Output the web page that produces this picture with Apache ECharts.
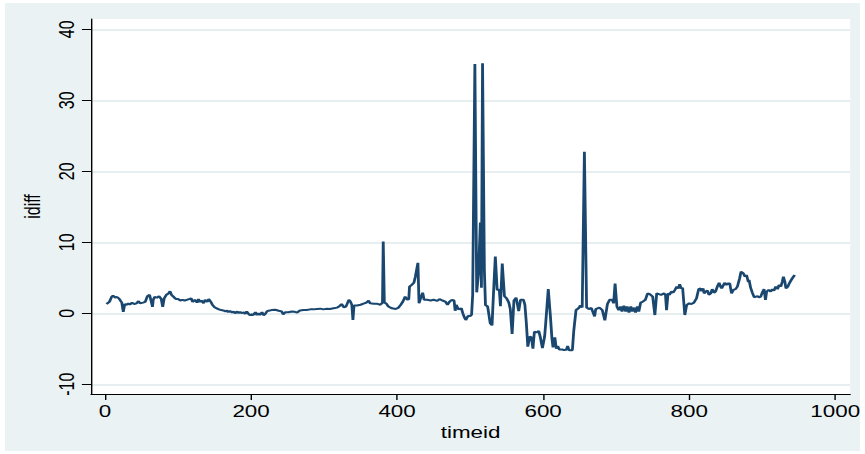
<!DOCTYPE html>
<html>
<head>
<meta charset="utf-8">
<script src="https://cdn.jsdelivr.net/npm/echarts@6/dist/echarts.min.js"></script>
<style>
  html, body { margin: 0; padding: 0; background: #ffffff; width: 865px; height: 454px; overflow: hidden; }
  #frame { position: absolute; left: 5px; top: 3px; width: 855px; height: 448px; background: #eaf2f3; }
  /* the graph is laid out narrow and widened horizontally, like a stretched export */
  #chart { position: absolute; left: 0; top: 0; width: 617.857px; height: 454px;
           transform: scaleX(1.4); transform-origin: 0 0; }
</style>
</head>
<body>
<div id="frame"></div>
<div id="chart"></div>
<script>
// time index of each observation
const timeid = [
  2, 6, 9, 11, 14, 16, 19, 23, 25, 27, 30, 32, 34, 37, 40, 43, 46, 48, 52, 55,
  58, 61, 63, 65, 66, 68, 71, 74, 77, 79, 81, 84, 87, 89, 91, 94, 96, 98, 100, 103,
  106, 109, 112, 115, 118, 120, 123, 126, 128, 130, 132, 135, 137, 140, 142, 145, 147, 150, 153, 156,
  159, 162, 165, 167, 169, 171, 174, 176, 178, 181, 183, 185, 187, 190, 192, 194, 197, 199, 201, 203,
  206, 208, 210, 212, 215, 217, 219, 222, 224, 228, 233, 238, 242, 244, 247, 251, 256, 260,
  263, 267, 272, 276, 281, 286, 290, 295, 299, 304, 308, 313, 318, 321, 324, 327, 330, 334, 336, 338,
  339.5, 341, 345, 350, 354, 358, 361, 363, 368, 372, 377, 380, 381, 382.5, 385, 388, 393, 398, 402, 405,
  408, 411, 414, 416, 417, 420, 423, 425, 428.5, 430, 432, 435, 437, 441, 446, 450, 455, 458, 462, 466,
  469, 472, 475, 478, 479.5, 481, 484, 488, 490, 492, 494, 497, 500,
  502, 503.5, 506.5, 509, 511.5, 514, 515.5, 517, 519.5, 521, 524, 527.5, 530, 532, 534.5, 537, 540, 541.5, 544, 547,
  550, 553, 555, 557.5, 560, 563, 566.5, 569, 573, 575, 577, 579, 581.5, 584, 586, 588, 591, 594, 596, 599,
  602, 603.5, 607, 610, 612, 613.5, 616, 618, 620, 622, 626, 629, 632, 633.5, 635.5, 640, 642, 645, 648.5, 651,
  653.5, 656.5, 659.5, 662.5, 666, 670.5, 672, 677, 681, 684.5, 688, 691, 694.5, 696.5, 698.5, 701,
  703.5, 706, 708, 710.5, 713, 715, 717.5, 720, 722, 724.5, 726.5, 729, 731, 733.5, 736, 740, 743, 746, 750, 753,
  755.5, 758.5, 761.5, 765.5, 767.5, 769, 771, 773, 775.5, 778, 780.5, 783, 785, 787, 789, 791, 794, 796.5, 800, 803,
  806.5, 810, 813, 815.5, 817, 819, 820.5, 822.5, 825, 827, 829.5, 831.5, 834, 836, 838.5, 841, 843, 844.5, 848.5, 851,
  853, 855.5, 858, 860.5, 863.5, 866, 869, 871, 874, 876.5, 878.5, 881, 882, 884, 886.5, 889, 891, 893.5, 895.5, 898,
  900, 902.5, 904.5, 906, 909, 911.5, 914, 916, 918.5, 921, 923, 925.5, 927.5, 929, 931, 932.5, 935, 937.5, 941, 944.5
];

// idiff value at each time index
const idiff = [
  1.3, 1.6, 2.3, 2.5, 2.2, 2.3, 2.1, 1.5, 0.2, 1.3, 1.2, 1.4, 1.2, 1.5, 1.3, 1.4, 1.7, 1.4, 1.5, 1.6,
  2.4, 2.6, 1.8, 0.9, 1.9, 2.3, 2.2, 2.4, 2.0, 0.9, 2.1, 2.6, 2.8, 3.1, 2.6, 2.3, 2.1, 2.0, 2.0, 1.8,
  1.9, 1.8, 1.9, 2.0, 2.1, 1.6, 1.9, 1.5, 2.0, 1.6, 1.8, 1.4, 1.9, 1.6, 2.0, 1.6, 1.2, 0.85, 0.7, 0.55,
  0.45, 0.4, 0.25, 0.4, 0.15, 0.35, 0.1, 0.25, 0.0, 0.25, 0.0, 0.2, 0.0, 0.15, -0.1, 0.25, -0.15, -0.25, -0.15, -0.25,
  0.15, -0.25, 0.0, -0.25, 0.15, -0.25, -0.15, 0.3, 0.35, 0.45, 0.5, 0.35, 0.25, -0.15, 0.15, 0.15, 0.25, 0.2,
  0.1, 0.4, 0.45, 0.45, 0.55, 0.55, 0.6, 0.65, 0.55, 0.65, 0.6, 0.7, 0.8, 1.0, 1.3, 0.85, 0.95, 1.9, 1.65, 1.2,
  -0.95, 1.1, 1.1, 1.2, 1.35, 1.5, 1.8, 1.4, 1.35, 1.35, 1.2, 1.5, 10.1, 1.5, 1.4, 0.95, 0.7, 0.6, 0.8, 1.2,
  1.65, 2.35, 1.9, 2.0, 3.75, 4.0, 4.3, 5.15, 7.1, 1.4, 2.05, 2.9, 1.9, 1.9, 1.8, 1.9, 1.75, 2.0, 1.8, 1.65,
  1.2, 1.65, 1.9, 1.8, 0.35, 1.2, 0.55, 0.7, 0.0, -0.55, -0.95, -0.4, -0.4,
  -0.2, 2.6, 35.1, 2.95, 5.7, 12.8, 3.6, 35.2, 6.1, 1.15, 0.95, -1.4, -1.7, 2.8, 8.0, 3.3, 3.3, 1.0, 7.0, 2.4,
  2.1, 1.5, 0.6, -2.9, 1.8, 2.2, 0.3, 1.9, 1.9, 1.2, -1.4, -4.7, -3.3, -3.4, -5.0, -2.6, -2.7, -2.5, -3.3, -4.9,
  -3.3, -1.4, 3.4, -0.5, -3.5, -4.8, -3.4, -5.0, -4.6, -5.1, -5.1, -5.2, -5.1, -4.6, -5.2, -5.2, -2.4, 0.45, 0.7, 1.1,
  0.8, 22.75, 0.8, 0.6, 0.75, -0.45, 0.6, 0.8, 0.45, -1.0, 1.3, 1.9, 1.9, 1.4, 4.2, 0.95,
  0.45, 0.95, 0.25, 1.05, 0.25, 0.95, 0.1, 0.95, 0.25, 0.8, 0.1, 0.95, 0.25, 1.5, 1.6, 1.9, 2.8, 2.7, 2.35, -0.25,
  2.8, 2.7, 2.6, 2.8, 2.6, 0.45, 2.8, 2.6, 3.05, 2.9, 3.3, 3.75, 3.5, 4.1, 3.5, 3.6, -0.25, 1.15, 1.4, 1.3,
  1.5, 2.1, 3.4, 3.5, 3.1, 3.5, 2.8, 3.05, 3.2, 2.6, 2.8, 3.4, 2.9, 3.05, 3.75, 4.3, 3.75, 3.5, 4.3, 4.0,
  4.2, 4.2, 2.8, 3.3, 3.4, 3.75, 4.9, 5.85, 5.65, 5.15, 5.4, 4.4, 4.7, 3.65, 2.9, 2.25, 2.35, 2.4, 2.25, 2.35,
  2.9, 3.4, 1.9, 3.05, 3.3, 3.05, 3.4, 3.2, 3.75, 3.4, 4.0, 3.75, 4.45, 5.15, 4.45, 3.5, 3.75, 4.3, 4.9, 5.4
];

// tick labels on each axis
const xTicks = [0, 200, 400, 600, 800, 1000];
const yTicks = [-10, 0, 10, 20, 30, 40];

const FONT = "'Liberation Sans', Arial, sans-serif";
const INK = '#000000';
const plain = v => String(v);

const chart = echarts.init(document.getElementById('chart'), null, { renderer: 'svg' });

chart.setOption({
  animation: false,
  backgroundColor: 'transparent',
  grid: {
    left: 65, right: 10.71, top: 19, bottom: 60,
    show: true, backgroundColor: '#ffffff', borderWidth: 0
  },
  xAxis: {
    type: 'value',
    min: -19.2, max: 1020.5,
    name: 'timeid', nameLocation: 'middle', nameGap: 29,
    nameTextStyle: { fontFamily: FONT, fontSize: 16, color: INK },
    axisLine: { show: true, onZero: false, lineStyle: { color: INK, width: 1 } },
    axisTick: { show: true, length: 6, customValues: xTicks, lineStyle: { color: INK, width: 1 } },
    axisLabel: { customValues: xTicks, formatter: plain, margin: 9, fontFamily: FONT, fontSize: 16, color: INK },
    splitLine: { show: false }
  },
  yAxis: {
    type: 'value',
    min: -11.37, max: 41.45,
    name: 'idiff', nameLocation: 'middle', nameGap: 33, nameRotate: 90,
    nameTextStyle: { fontFamily: FONT, fontSize: 16, color: INK },
    axisLine: { show: true, onZero: false, lineStyle: { color: INK, width: 1 } },
    axisTick: { show: true, length: 6.5, customValues: yTicks, lineStyle: { color: INK, width: 1 } },
    axisLabel: { customValues: yTicks, formatter: plain, rotate: 90, margin: 10, fontFamily: FONT, fontSize: 16, color: INK },
    splitLine: { show: true, lineStyle: { color: '#e6eef0', width: 2 } }
  },
  series: [
    {
      name: 'idiff',
      type: 'line',
      z: 3,
      showSymbol: false,
      symbol: 'none',
      lineStyle: { color: '#1a476f', width: 2 },
      data: timeid.map((t, i) => [t, idiff[i]])
    }
  ]
});
</script>
</body>
</html>
